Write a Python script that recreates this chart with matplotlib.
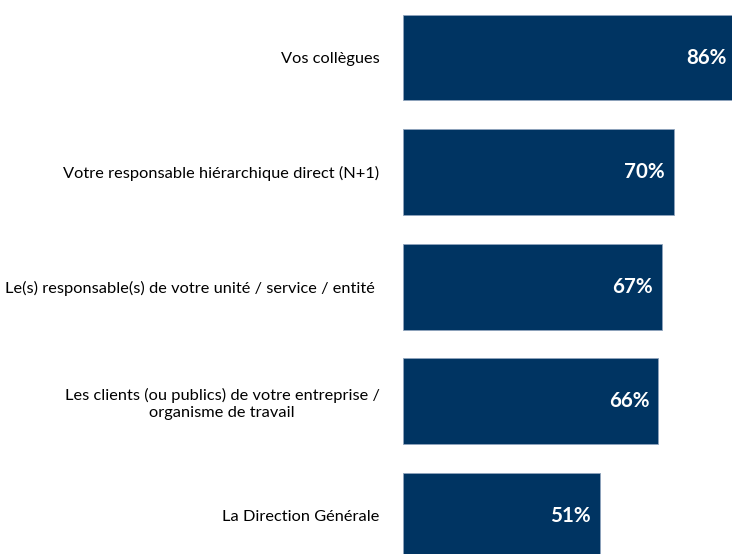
import matplotlib
matplotlib.use("Agg")
import matplotlib.pyplot as plt

categories = [
    "Vos collègues",
    "Votre responsable hiérarchique direct (N+1)",
    "Le(s) responsable(s) de votre unité / service / entité ",
    "Les clients (ou publics) de votre entreprise /\norganisme de travail",
    "La Direction Générale",
]
values = [86, 70, 67, 66, 51]
value_labels = ["86%", "70%", "67%", "66%", "51%"]

plt.rcParams['font.family'] = ['Lato', 'DejaVu Sans']

fig = plt.figure(figsize=(7.32, 5.54), dpi=100)
ax = fig.add_axes([403/732, 0, 329/732, 1])

ypos = list(range(len(categories)))
ax.barh(ypos, values, height=0.75, color='#003462', edgecolor='#8FA3BC', linewidth=0.6)
ax.set_xlim(0, 329/3.87)
ax.set_ylim(4 + 38/114.6, -57.5/114.6)

for y, v, lab in zip(ypos, values, value_labels):
    ax.text(v - 2.4, y, lab, ha='right', va='center', color='white',
            fontsize=14.8, fontweight='bold')

ax.set_yticks(ypos)
ax.set_yticklabels(categories, fontsize=11.8, multialignment='center')
ax.tick_params(axis='y', length=0, pad=17)
ax.set_xticks([])
for s in ax.spines.values():
    s.set_visible(False)

fig.savefig("out.png", dpi=100)
